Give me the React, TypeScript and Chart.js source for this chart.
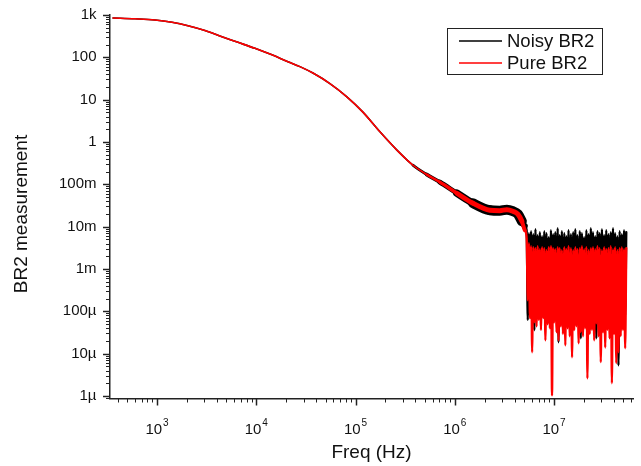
import React, { useEffect, useRef } from 'react';
import { Chart, registerables } from 'chart.js';

Chart.register(...registerables);

// ---- Data ----
// Smooth (low-frequency) part, Hz
const freqSmooth = [360.6, 600, 955, 1416, 2051, 3041, 4508, 6540, 9700, 14390, 20850, 27540, 37240, 55220, 81860, 118800, 176300, 261400, 378500, 523800, 708300, 1.05e6, 1.521e6, 2.254e6, 2.843e6, 3.347e6, 3.846e6, 4.322e6, 4.742e6, 5.08e6];
const pureSmooth = [849, 813, 762, 672, 559, 430, 307, 226, 163, 114.6, 78.7, 60.3, 42.5, 24.0, 11.7, 5.09, 1.74, 0.644, 0.284, 0.1695, 0.1127, 0.0619, 0.036, 0.0245, 0.0239, 0.0252, 0.0232, 0.0198, 0.0135, 0.00826];
const noisySmooth = [849, 813, 762, 672, 559, 430, 307, 226, 163, 114.6, 78.7, 60.3, 42.5, 24.0, 11.7, 5.09, 1.74, 0.644, 0.284, 0.1695, 0.1127, 0.0619, 0.036, 0.0245, 0.0239, 0.0252, 0.0232, 0.0198, 0.0135, 0.0103];

// High-frequency (noise floor) part, MHz
const freqNoiseMHz = [5.30, 5.44, 5.58, 5.72, 5.87, 6.02, 6.18, 6.34, 6.50, 6.67, 6.84, 7.02, 7.20, 7.39, 7.58, 7.78, 7.98, 8.19, 8.40, 8.62, 8.84, 9.07, 9.31, 9.55, 9.80, 10.05, 10.3, 10.6, 10.9, 11.1, 11.4, 11.7, 12.0, 12.3, 12.7, 13.0, 13.3, 13.7, 14.0, 14.4, 14.8, 15.2, 15.6, 16.0, 16.4, 16.8, 17.2, 17.7, 18.2, 18.6, 19.1, 19.6, 20.1, 20.6, 21.2, 21.7, 22.3, 22.9, 23.5, 24.1, 24.7, 25.4, 26.0, 26.7, 27.4, 28.1, 28.8, 29.6, 30.4, 31.2, 32.0, 32.8, 33.6, 34.5, 35.4, 36.3, 37.3, 38.3, 39.3, 40.3, 41.3, 42.4, 43.5, 44.6, 45.8, 47.0, 48.2, 49.5, 50.8, 52.1, 53.5];
const pureNoise = [5.35e-3, 1.83e-4, 4.07e-3, 6.9e-5, 3.46e-3, 1.08e-5, 3.28e-3, 5.5e-5, 3.10e-3, 4.4e-5, 3.46e-3, 6.2e-5, 2.94e-3, 3.6e-5, 3.28e-3, 6.9e-5, 3.10e-3, 2.07e-5, 2.78e-3, 4.95e-5, 3.28e-3, 3.98e-5, 3.46e-3, 1.04e-6, 3.10e-3, 5.5e-5, 2.94e-3, 3.2e-5, 3.28e-3, 2.07e-5, 3.10e-3, 4.4e-5, 2.78e-3, 2.9e-5, 3.28e-3, 1.58e-5, 2.94e-3, 3.98e-5, 3.46e-3, 2.58e-5, 3.10e-3, 8.2e-6, 2.78e-3, 3.6e-5, 3.28e-3, 4.4e-5, 2.94e-3, 1.76e-5, 3.10e-3, 3.2e-5, 3.46e-3, 2.58e-5, 2.94e-3, 3.98e-5, 3.28e-3, 2.6e-6, 2.78e-3, 2.9e-5, 3.10e-3, 3.6e-5, 3.28e-3, 2.07e-5, 2.94e-3, 5.2e-5, 3.46e-3, 2.58e-5, 3.10e-3, 6.3e-6, 2.78e-3, 3.2e-5, 3.28e-3, 1.4e-5, 2.94e-3, 3.6e-5, 3.10e-3, 2.3e-5, 3.46e-3, 2.0e-6, 2.94e-3, 2.9e-5, 3.28e-3, 6.0e-6, 2.78e-3, 1.08e-5, 3.10e-3, 2.58e-5, 3.28e-3, 3.6e-5, 2.94e-3, 1.34e-5, 3.10e-3];
const noisyNoise = [8.26e-3, 6.2e-5, 7.02e-3, 8.1e-5, 7.83e-3, 1.18e-4, 6.65e-3, 3.6e-5, 8.73e-3, 9.5e-5, 6.3e-3, 1.06e-4, 7.41e-3, 1.39e-4, 5.96e-3, 8.1e-5, 7.83e-3, 9.5e-5, 7.02e-3, 1.18e-4, 5.65e-3, 1.06e-4, 8.26e-3, 8.1e-5, 6.65e-3, 1.39e-4, 7.41e-3, 9.5e-5, 9.2e-3, 1.86e-5, 6.3e-3, 1.06e-4, 7.83e-3, 1.18e-4, 7.02e-3, 8.1e-5, 5.96e-3, 1.39e-4, 8.26e-3, 9.5e-5, 6.65e-3, 1.06e-4, 7.41e-3, 1.18e-4, 8.73e-3, 8.1e-5, 6.3e-3, 9.5e-5, 7.83e-3, 2.3e-5, 7.02e-3, 1.39e-4, 5.65e-3, 1.06e-4, 8.26e-3, 8.1e-5, 6.65e-3, 1.18e-4, 9.2e-3, 9.5e-5, 7.41e-3, 1.06e-4, 5.96e-3, 2.3e-5, 7.83e-3, 1.39e-4, 7.02e-3, 8.1e-5, 8.73e-3, 9.5e-5, 6.3e-3, 1.06e-4, 8.26e-3, 1.18e-4, 6.65e-3, 8.1e-5, 7.41e-3, 9.5e-5, 9.2e-3, 1.39e-4, 7.02e-3, 1.06e-4, 5.96e-3, 5.3e-6, 7.83e-3, 9.5e-5, 6.65e-3, 1.18e-4, 8.26e-3, 8.1e-5, 7.41e-3];

// Axis ticks
const yTickValues = [1e-6, 1e-5, 1e-4, 1e-3, 1e-2, 1e-1, 1, 10, 100, 1000];
const yTickLabels = ['1µ', '10µ', '100µ', '1m', '10m', '100m', '1', '10', '100', '1k'];
const xTickExponents = [3, 4, 5, 6, 7];

const seriesNames = ['Noisy BR2', 'Pure BR2'];
const seriesColors = ['#000000', '#ff0000'];

const FONT = "'Liberation Sans', Arial, Helvetica, sans-serif";

function buildPoints(smooth: number[], noise: number[]) {
  const pts = freqSmooth.map((f, i) => ({ x: f, y: smooth[i] }));
  freqNoiseMHz.forEach((f, i) => pts.push({ x: f * 1e6, y: noise[i] }));
  return pts;
}

function ramp(l: number, a: number, b: number, wa: number, wb: number) {
  if (l <= a) return wa;
  if (l >= b) return wb;
  return wa + ((l - a) / (b - a)) * (wb - wa);
}

function noisyWidth(f0: number) {
  const l = Math.log10(f0);
  if (l >= 6.7) return 2.3;
  if (l >= 6.67) return 6;
  if (l < 5.85) return ramp(l, 5.45, 5.85, 1.6, 5);
  return ramp(l, 5.85, 6.2, 5, 10);
}

function pureWidth(f0: number) {
  const l = Math.log10(f0);
  if (l >= 6.7) return 2.3;
  if (l >= 6.67) return 4;
  return ramp(l, 5.6, 6.05, 1.6, 5);
}

const decorPlugin = {
  id: 'decor',
  afterDraw(chart: any) {
    const ctx = chart.ctx as CanvasRenderingContext2D;
    const xs = chart.scales.x;
    const ys = chart.scales.y;
    const area = chart.chartArea;
    ctx.save();
    ctx.strokeStyle = '#222';
    // x ticks
    for (let e = 2; e <= 7; e++) {
      for (let m = 1; m <= 9; m++) {
        const v = m * Math.pow(10, e);
        if (v < xs.min || v > xs.max) continue;
        const px = Math.round(xs.getPixelForValue(v)) + 0.5;
        const major = m === 1;
        ctx.lineWidth = major ? 1.5 : 1;
        ctx.beginPath();
        ctx.moveTo(px, area.bottom);
        ctx.lineTo(px, area.bottom + (major ? 7 : 4));
        ctx.stroke();
      }
    }
    // y ticks
    for (let e = -7; e <= 3; e++) {
      for (let m = 1; m <= 9; m++) {
        const v = m * Math.pow(10, e);
        if (v < ys.min * 0.999 || v > ys.max * 1.001) continue;
        const py = Math.round(ys.getPixelForValue(v)) + 0.5;
        const major = m === 1;
        ctx.lineWidth = major ? 1.5 : 1;
        ctx.beginPath();
        ctx.moveTo(area.left, py);
        ctx.lineTo(area.left - (major ? 7 : 4), py);
        ctx.stroke();
      }
    }
    // x labels 10^n
    ctx.fillStyle = '#111';
    ctx.textBaseline = 'alphabetic';
    xTickExponents.forEach((e) => {
      const px = xs.getPixelForValue(Math.pow(10, e));
      ctx.font = `15px ${FONT}`;
      const w1 = ctx.measureText('10').width;
      ctx.font = `10px ${FONT}`;
      const w2 = ctx.measureText(String(e)).width;
      const start = px - (w1 + w2 + 1) / 2;
      ctx.font = `15px ${FONT}`;
      ctx.textAlign = 'left';
      ctx.fillText('10', start, 434);
      ctx.font = `10px ${FONT}`;
      ctx.fillText(String(e), start + w1 + 1, 426);
    });
    // axis titles
    ctx.font = `19px ${FONT}`;
    ctx.textAlign = 'center';
    ctx.textBaseline = 'middle';
    ctx.fillText('Freq (Hz)', (area.left + area.right) / 2, 453);
    ctx.save();
    ctx.translate(22, 214);
    ctx.rotate(-Math.PI / 2);
    ctx.fillText('BR2 measurement', 0, 0);
    ctx.restore();
    // legend
    ctx.lineWidth = 1;
    ctx.strokeStyle = '#222';
    ctx.strokeRect(447.5, 28.5, 155, 46);
    const rows = [41, 63];
    rows.forEach((ry, i) => {
      ctx.strokeStyle = seriesColors[i];
      ctx.lineWidth = 1.5;
      ctx.beginPath();
      ctx.moveTo(459, ry);
      ctx.lineTo(502, ry);
      ctx.stroke();
      ctx.fillStyle = '#111';
      ctx.font = `18.5px ${FONT}`;
      ctx.textAlign = 'left';
      ctx.textBaseline = 'middle';
      ctx.fillText(seriesNames[i], 507, ry + 1);
    });
    ctx.restore();
  },
};

export default function App() {
  const ref = useRef<HTMLCanvasElement | null>(null);
  useEffect(() => {
    if (!ref.current) return;
    const chart = new Chart(ref.current, {
      type: 'line',
      data: {
        datasets: [
          {
            label: seriesNames[1],
            data: buildPoints(pureSmooth, pureNoise),
            borderColor: seriesColors[1],
            borderWidth: 1.6,
            pointRadius: 0,
            cubicInterpolationMode: 'monotone',
            borderJoinStyle: 'round',
            borderCapStyle: 'round',
            order: 1,
            segment: {
              borderWidth: (c: any) => pureWidth(c.p0.parsed.x),
            },
          } as any,
          {
            label: seriesNames[0],
            data: buildPoints(noisySmooth, noisyNoise),
            borderColor: seriesColors[0],
            borderWidth: 1.6,
            pointRadius: 0,
            cubicInterpolationMode: 'monotone',
            borderJoinStyle: 'round',
            borderCapStyle: 'round',
            order: 2,
            segment: {
              borderWidth: (c: any) => noisyWidth(c.p0.parsed.x),
            },
          } as any,
        ],
      },
      options: {
        animation: false,
        responsive: false,
        devicePixelRatio: 1,
        layout: { padding: { top: 15, right: 8, left: 0, bottom: 0 } },
        plugins: { legend: { display: false }, tooltip: { enabled: false } },
        scales: {
          x: {
            type: 'logarithmic',
            min: 336,
            max: 6.25e7,
            grid: { display: false, drawTicks: false },
            border: { display: true, color: '#222', width: 1.5 },
            ticks: { display: false },
            afterFit: (s: any) => {
              s.height = 67.5;
              s.paddingLeft = 0;
              s.paddingRight = 0;
            },
          },
          y: {
            type: 'logarithmic',
            min: 8.73e-7,
            max: 1000,
            grid: { display: false, drawTicks: false },
            border: { display: true, color: '#222', width: 1.5 },
            afterBuildTicks: (s: any) => {
              s.ticks = yTickValues.map((v) => ({ value: v }));
            },
            ticks: {
              autoSkip: false,
              padding: 13.5,
              color: '#111',
              font: { family: FONT, size: 15 },
              callback: (_v: any, i: number) => yTickLabels[i],
            },
            afterFit: (s: any) => {
              s.width = 110;
              s.paddingTop = 0;
              s.paddingBottom = 0;
            },
          },
        },
      } as any,
      plugins: [decorPlugin],
    });
    return () => chart.destroy();
  }, []);
  return (
    <div style={{ position: 'absolute', left: 0, top: 0, width: 641, height: 466, background: '#fff' }}>
      <canvas ref={ref} width={641} height={466} />
    </div>
  );
}
